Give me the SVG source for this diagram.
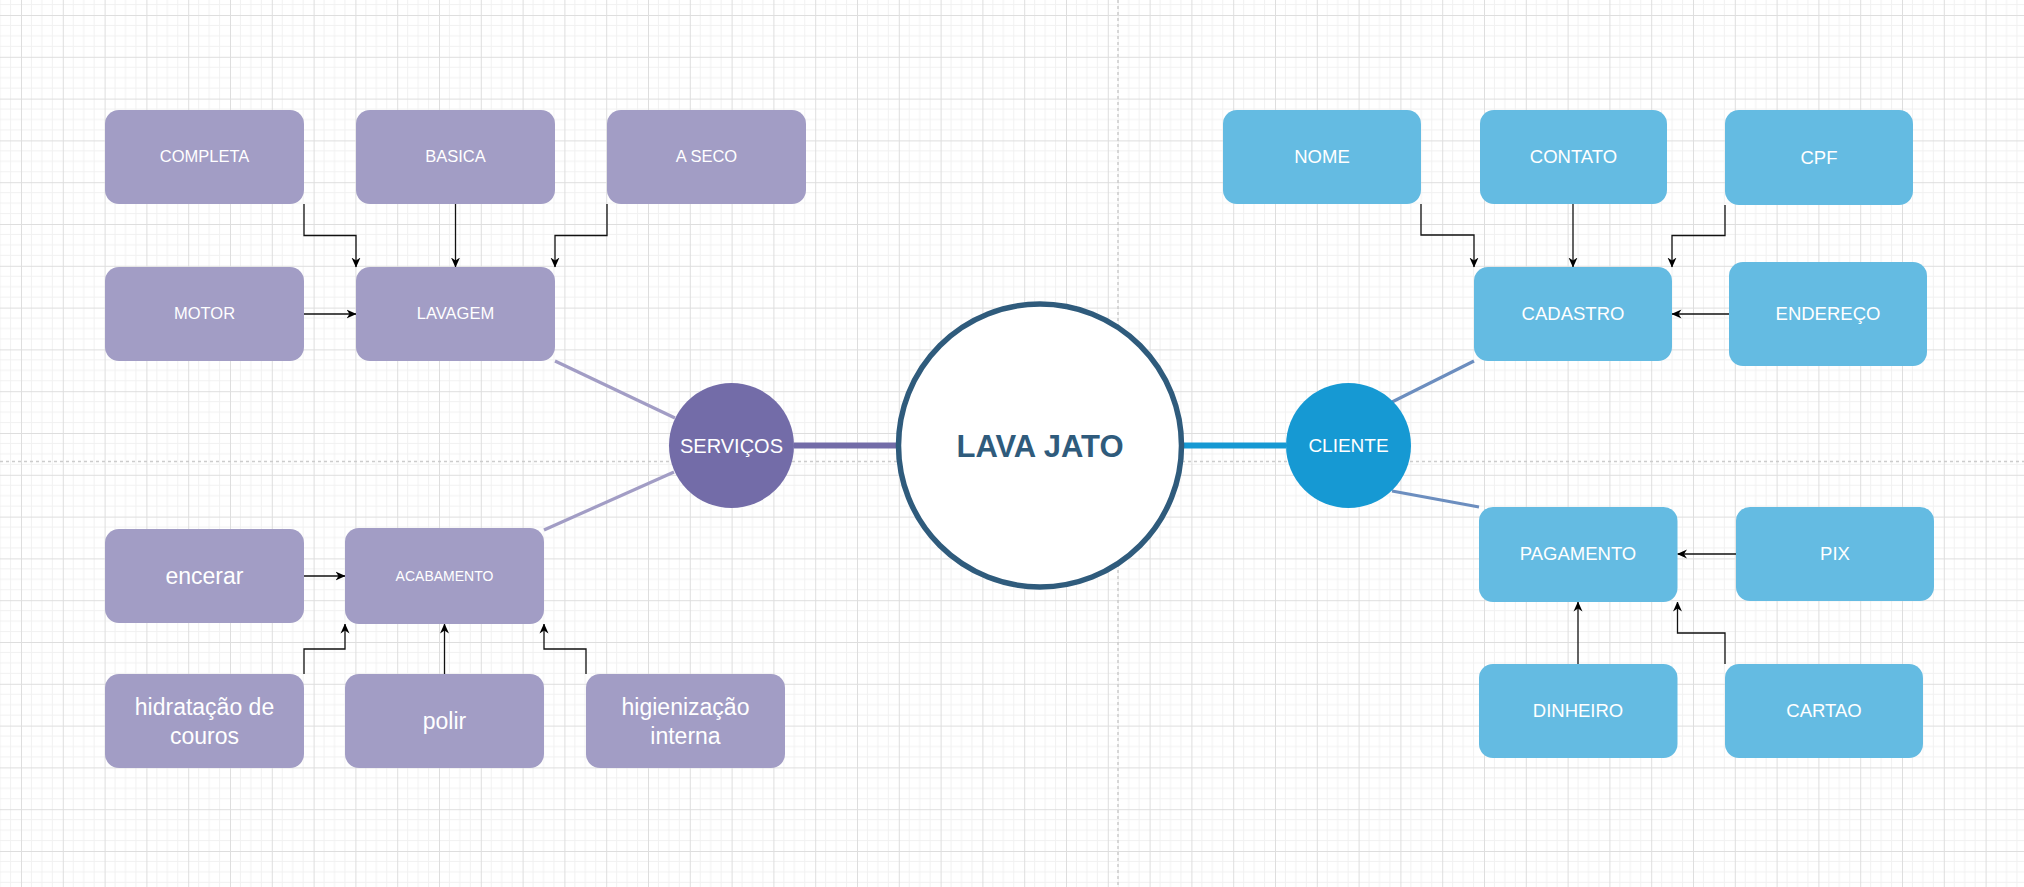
<svg xmlns="http://www.w3.org/2000/svg" width="2024" height="887" viewBox="0 0 2024 887">
<defs>
<pattern id="grid" x="21" y="15" width="41.8" height="41.8" patternUnits="userSpaceOnUse">
<path d="M10.45,0V41.8M20.9,0V41.8M31.35,0V41.8M0,10.45H41.8M0,20.9H41.8M0,31.35H41.8" stroke="#f1f1f1" stroke-width="1" fill="none"/>
<path d="M0.5,0V41.8M0,0.5H41.8" stroke="#dedede" stroke-width="1" fill="none"/>
</pattern>
<marker id="arr" viewBox="0 0 10 10" refX="9.5" refY="5" markerWidth="10" markerHeight="10" markerUnits="userSpaceOnUse" orient="auto">
<path d="M0,0.5 L10,5 L0,9.5 L3,5 z" fill="#000"/>
</marker>
<style>
.p{fill:#a29dc5}
.b{fill:#64bbe2}
.t{font-family:"Liberation Sans",Arial,sans-serif;fill:#fff;text-anchor:middle}
.e{fill:none;stroke:#111;stroke-width:1.3;marker-end:url(#arr)}
</style>
</defs>
<rect width="2024" height="887" fill="#fff"/>
<rect width="2024" height="887" fill="url(#grid)"/>
<g stroke="#cccccc" stroke-width="1.5" stroke-dasharray="3 3" fill="none">
<path d="M1118,0V887"/>
<path d="M0,461.5H2024"/>
</g>
<g id="connectors">
<path d="M794,445.5H899" stroke="#736ca8" stroke-width="6"/>
<path d="M1183,445.5H1286" stroke="#1699d3" stroke-width="6"/>
<path d="M555,361L675,418" stroke="#a29dc5" stroke-width="3.2"/>
<path d="M544,530L674,472" stroke="#a29dc5" stroke-width="3.2"/>
<path d="M1392,402L1474,361" stroke="#6c8ebf" stroke-width="3.2"/>
<path d="M1392,491L1479,507" stroke="#6c8ebf" stroke-width="3.2"/>
<path class="e" d="M304,204V235.5H356V267"/>
<path class="e" d="M455.5,204V267"/>
<path class="e" d="M607,204V235.5H555V267"/>
<path class="e" d="M304,314H356"/>
<path class="e" d="M304,576H345"/>
<path class="e" d="M304,674V649H345V624"/>
<path class="e" d="M444.5,674V624"/>
<path class="e" d="M586,674V649H544V624"/>
<path class="e" d="M1421,204V235H1474V267"/>
<path class="e" d="M1573,204V267"/>
<path class="e" d="M1725,205V235.5H1672V267"/>
<path class="e" d="M1729,314H1672"/>
<path class="e" d="M1736,554H1677.5"/>
<path class="e" d="M1578,664V602"/>
<path class="e" d="M1725,664V633H1677.5V602"/>
</g>
<g id="lavajato">
<circle cx="1040" cy="445.5" r="141.5" fill="#fff" stroke="#2f5b7c" stroke-width="5.5"/>
<text x="1040" y="457" font-family="Liberation Sans,Arial,sans-serif" font-weight="bold" font-size="31" fill="#2f5b7c" text-anchor="middle">LAVA JATO</text>
</g>
<g id="servicos">
<circle cx="731.5" cy="445.5" r="62.5" fill="#736ca8"/>
<text class="t" x="731.5" y="452.5" font-size="20">SERVIÇOS</text>
</g>
<g id="cliente">
<circle cx="1348.5" cy="445.5" r="62.5" fill="#1699d3"/>
<text class="t" x="1348.5" y="452" font-size="19">CLIENTE</text>
</g>
<g id="completa"><rect class="p" x="105" y="110" width="199" height="94" rx="14"/><text class="t" x="204.5" y="161.5" font-size="16.5">COMPLETA</text></g>
<g id="basica"><rect class="p" x="356" y="110" width="199" height="94" rx="14"/><text class="t" x="455.5" y="161.5" font-size="16.5">BASICA</text></g>
<g id="aseco"><rect class="p" x="607" y="110" width="199" height="94" rx="14"/><text class="t" x="706.5" y="161.5" font-size="16.5">A SECO</text></g>
<g id="motor"><rect class="p" x="105" y="267" width="199" height="94" rx="14"/><text class="t" x="204.5" y="318.5" font-size="16.5">MOTOR</text></g>
<g id="lavagem"><rect class="p" x="356" y="267" width="199" height="94" rx="14"/><text class="t" x="455.5" y="318.5" font-size="16.5">LAVAGEM</text></g>
<g id="encerar"><rect class="p" x="105" y="529" width="199" height="94" rx="14"/><text class="t" x="204.5" y="584" font-size="23">encerar</text></g>
<g id="acabamento"><rect class="p" x="345" y="528" width="199" height="96" rx="14"/><text class="t" x="444.5" y="581" font-size="14">ACABAMENTO</text></g>
<g id="hidratacao"><rect class="p" x="105" y="674" width="199" height="94" rx="14"/><text class="t" x="204.5" y="715" font-size="23">hidratação de</text><text class="t" x="204.5" y="743.5" font-size="23">couros</text></g>
<g id="polir"><rect class="p" x="345" y="674" width="199" height="94" rx="14"/><text class="t" x="444.5" y="729" font-size="23">polir</text></g>
<g id="higienizacao"><rect class="p" x="586" y="674" width="199" height="94" rx="14"/><text class="t" x="685.5" y="715" font-size="23">higienização</text><text class="t" x="685.5" y="743.5" font-size="23">interna</text></g>
<g id="nome"><rect class="b" x="1223" y="110" width="198" height="94" rx="14"/><text class="t" x="1322" y="162.5" font-size="18.5">NOME</text></g>
<g id="contato"><rect class="b" x="1480" y="110" width="187" height="94" rx="14"/><text class="t" x="1573.5" y="162.5" font-size="18.5">CONTATO</text></g>
<g id="cpf"><rect class="b" x="1725" y="110" width="188" height="95" rx="14"/><text class="t" x="1819" y="163.5" font-size="18.5">CPF</text></g>
<g id="cadastro"><rect class="b" x="1474" y="267" width="198" height="94" rx="14"/><text class="t" x="1573" y="320" font-size="18.5">CADASTRO</text></g>
<g id="endereco"><rect class="b" x="1729" y="262" width="198" height="104" rx="14"/><text class="t" x="1828" y="320" font-size="18.5">ENDEREÇO</text></g>
<g id="pagamento"><rect class="b" x="1479" y="507" width="198.5" height="95" rx="14"/><text class="t" x="1578" y="560" font-size="18.5">PAGAMENTO</text></g>
<g id="pix"><rect class="b" x="1736" y="507" width="198" height="94" rx="14"/><text class="t" x="1835" y="559.5" font-size="18.5">PIX</text></g>
<g id="dinheiro"><rect class="b" x="1479" y="664" width="198.5" height="94" rx="14"/><text class="t" x="1578" y="716.5" font-size="18.5">DINHEIRO</text></g>
<g id="cartao"><rect class="b" x="1725" y="664" width="198" height="94" rx="14"/><text class="t" x="1824" y="716.5" font-size="18.5">CARTAO</text></g>
</svg>
